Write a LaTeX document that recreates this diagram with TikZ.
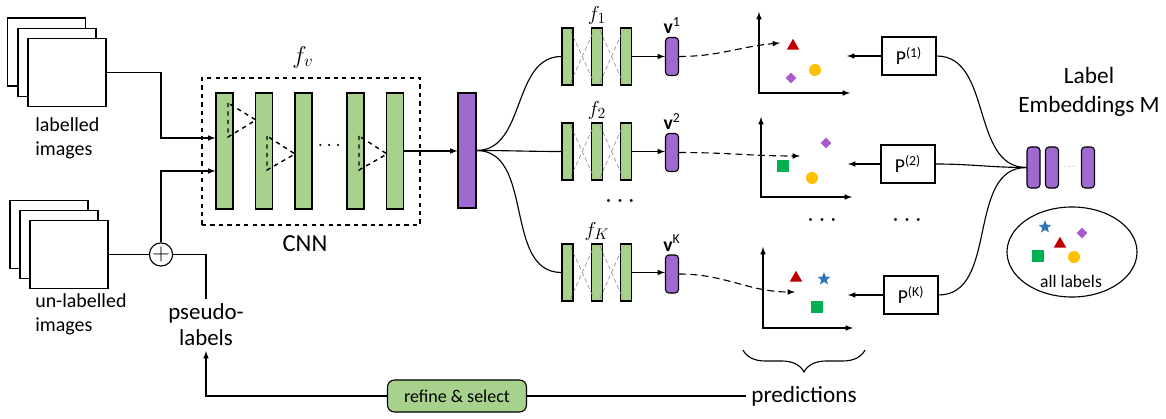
\documentclass[tikz,border=0pt]{standalone}
\usepackage{amsmath}
\usepackage{amssymb}
\usepackage{fontspec}
\setmainfont{Carlito}
\usetikzlibrary{fit,positioning,shapes.geometric,decorations.pathreplacing}

\definecolor{cnngreen}{RGB}{169,209,142}
\definecolor{embpurple}{RGB}{158,106,208}
\definecolor{mkred}{RGB}{192,0,0}
\definecolor{mkorange}{RGB}{255,192,0}
\definecolor{mkpurple}{RGB}{168,92,206}
\definecolor{mkgreen}{RGB}{0,176,80}
\definecolor{mkblue}{RGB}{46,117,182}

\newcommand{\spreaddots}{\fontsize{14}{14}\selectfont ·\hspace{4.5pt}·\hspace{4.5pt}·}

\begin{document}
\begin{tikzpicture}[x=0.025cm,y=-0.025cm]
		\tikzstyle{img}=[rectangle, draw=black, thick, fill=white, minimum width=1.95cm, minimum height=1.7cm, inner sep=0pt]
		\tikzstyle{conv}=[rectangle, draw=black, thick, fill=cnngreen, minimum width=0.425cm, minimum height=2.9cm, inner sep=0pt]
		\tikzstyle{fc}=[rectangle, draw=black, thick, fill=cnngreen, minimum width=0.275cm, minimum height=1.425cm, inner sep=0pt]
		\tikzstyle{vec}=[rectangle, rounded corners=2.5pt, draw=black, thick, fill=embpurple, minimum width=0.325cm, minimum height=0.95cm, inner sep=0pt]
		\tikzstyle{emb}=[vec, minimum height=1.025cm]
		\tikzstyle{pbox}=[rectangle, draw=black, thick, minimum width=1.35cm, minimum height=0.95cm, font=\fontsize{14}{16}\selectfont]
		\tikzstyle{connect}=[-latex, thick]
		\tikzstyle{plain}=[thick]
		\tikzstyle{flow}=[-latex, thick, dash pattern=on 5pt off 3pt]
		\tikzstyle{cross}=[densely dashed, gray, thin]
		\tikzstyle{txt}=[font=\fontsize{14.2}{17}\selectfont, align=left, inner sep=0pt]
		\tikzstyle{trimark}=[regular polygon, regular polygon sides=3, fill=mkred, minimum size=0.36cm, inner sep=0pt]
		\tikzstyle{circmark}=[circle, fill=mkorange, minimum size=0.3cm, inner sep=0pt]
		\tikzstyle{sqmark}=[rectangle, fill=mkgreen, minimum size=0.28cm, inner sep=0pt]
		\tikzstyle{diamark}=[diamond, fill=mkpurple, minimum size=0.27cm, inner sep=0pt]
		\tikzstyle{starmark}=[star, star points=5, star point ratio=2.4, fill=mkblue, minimum size=0.34cm, inner sep=0pt]
		\useasboundingbox (0,0) rectangle (1166,419);
		
		% inputs
		\node[img] (lab3) at (46.5,52) { };
		\node[img] (lab2) at (57,62.5) { };
		\node[img] (lab1) at (67,72.5) { };
		\node[txt, anchor=north west] (labtxt) at (35,117) {labelled\\images};
		
		\node[img] (unl3) at (49,234.5) { };
		\node[img] (unl2) at (59,244.5) { };
		\node[img] (unl1) at (69,254.5) { };
		\node[txt, anchor=north west] (unltxt) at (35,293) {un-labelled\\images};
		
		\node[circle, draw, thick, fill=white, minimum size=0.58cm, inner sep=0pt] (plus) at (161,254.5) {\fontsize{17}{17}\selectfont$+$};
		\node[font=\fontsize{16.3}{18.5}\selectfont, align=center, anchor=north] (pseudo) at (206,299) {pseudo-\\labels};
		
		% CNN
		\node[rectangle, draw, thick, dashed, minimum width=5.45cm, minimum height=3.675cm] (cnnbox) at (311,151.5) { };
		\node[font=\fontsize{17}{20}\selectfont] (fv) at (303,57) {$f_v$};
		\node[font=\fontsize{17.4}{20}\selectfont] (cnntxt) at (305,244) {CNN};
		\node[conv] (c1) at (224.5,151) { };
		\node[conv] (c2) at (264,151) { };
		\node[conv] (c3) at (303.5,151) { };
		\node[font=\fontsize{15}{15}\selectfont] (cdots) at (331,146) {$\cdots$};
		\node[conv] (c4) at (355.5,151) { };
		\node[conv] (c5) at (395,151) { };
		\draw[dashed, line width=1pt] (228,103) -- (228,137) -- (256,120) -- cycle;
		\draw[dashed, line width=1pt] (267,136) -- (267,170) -- (295,154) -- cycle;
		\draw[dashed, line width=1pt] (359,136) -- (359,170) -- (387,154) -- cycle;
		
		\draw[connect] (lab1.east) -- (161,72.5) |- (c1.west |- 0,138);
		\draw[plain] (unl1.east) -- (plus.west);
		\draw[connect] (plus.north) |- (c1.west |- 0,171);
		\draw[plain] (plus.east) -| (pseudo.north);
		
		\node[rectangle, draw=black, thick, fill=embpurple, minimum width=0.45cm, minimum height=2.875cm, inner sep=0pt] (feat) at (467,150.5) { };
		\path (c5.east) edge [connect] (feat.west |- c5.east);
		
		% heads
		\foreach \r/\y/\vy in {1/56.5/56.5, 2/151.5/152.5, K/272.5/274}{
			\node[fc] (f\r-a) at (567.5,\y) { };
			\node[fc] (f\r-b) at (597,\y) { };
			\node[fc] (f\r-c) at (626,\y) { };
			\node[font=\fontsize{15}{17}\selectfont, inner sep=2pt] (lf\r) [above=0pt of f\r-b] {$f_{\r}$};
			\draw[cross] ([shift={(-3,3)}]f\r-a.north east) -- ([shift={(3,-3)}]f\r-b.south west);
			\draw[cross] ([shift={(-3,-3)}]f\r-a.south east) -- ([shift={(3,3)}]f\r-b.north west);
			\draw[cross] ([shift={(-3,3)}]f\r-b.north east) -- ([shift={(3,-3)}]f\r-c.south west);
			\draw[cross] ([shift={(-3,-3)}]f\r-b.south east) -- ([shift={(3,3)}]f\r-c.north west);
			\node[vec] (v\r) at (672,\vy) { };
			\node[font=\fontsize{14}{16}\selectfont, inner sep=2pt] (lv\r) [above=0pt of v\r] {\textbf{v}\textsuperscript{\r}};
			\draw[connect] (f\r-c.east) -- (f\r-c.east -| v\r.west);
			\draw[plain] (feat.east) to[out=0,in=180] (f\r-a.west);
		}
		\node (hdots) at (620,203) {\spreaddots};
		
		% prediction plots
		\draw[latex-latex, thick] (759,12) -- (759,93) -- (850,93);
		\draw[latex-latex, thick] (761,117) -- (761,197) -- (852,197);
		\draw[latex-latex, thick] (763,247) -- (763,328) -- (853,328);
		\coordinate (t1) at (780,43);
		\coordinate (t2) at (800,156);
		\coordinate (tK) at (795,292);
		\draw[flow] (v1.east) to[out=0,in=185] (t1);
		\draw[flow] (v2.east) to[out=0,in=180] (t2);
		\draw[flow] (vK.east) to[out=0,in=180] (tK);
		
		\node[trimark] (m11) at (793,46) { };
		\node[circmark] (m12) at (815,70) { };
		\node[diamark] (m13) at (791,78) { };
		\node[diamark] (m21) at (826,143) { };
		\node[sqmark] (m22) at (783,166) { };
		\node[circmark] (m23) at (812,178) { };
		\node[trimark] (mK1) at (796,278) { };
		\node[starmark] (mK2) at (824,279) { };
		\node[sqmark] (mK3) at (817,307) { };
		
		\node (pdots) at (822,222) {\spreaddots};
		\node (qdots) at (907,222) {\spreaddots};
		
		\draw[thick, decorate, decoration={brace, mirror, amplitude=0.55cm}] (743,350) -- (865,350);
		\node[font=\fontsize{16.5}{18}\selectfont] (pred) at (804,396) {predictions};
		
		% projections
		\node[pbox] (P1) at (909,56) {P\textsuperscript{(1)}};
		\node[pbox] (P2) at (908,164) {P\textsuperscript{(2)}};
		\node[pbox] (PK) at (911,295) {P\textsuperscript{(K)}};
		\coordinate (a1) at (847,56);
		\coordinate (a2) at (848,164);
		\coordinate (aK) at (848,295);
		\path (P1.west) edge [connect] (a1);
		\path (P2.west) edge [connect] (a2);
		\path (PK.west) edge [connect] (aK);
		
		% label embeddings
		\node[emb] (e1) at (1033.5,167.5) { };
		\node[emb] (e2) at (1052,167.5) { };
		\node (edots) at (1070,167) {\tiny$\cdots$};
		\node[emb] (e3) at (1088,167.5) { };
		\node[font=\fontsize{16.6}{20.5}\selectfont, align=center] (embtxt) at (1089,92) {Label\\Embeddings M};
		\draw[plain] (P1.east) to[out=0,in=180] (e1.west);
		\draw[plain] (P2.east) to[out=0,in=180] (e1.west);
		\draw[plain] (PK.east) to[out=0,in=180] (e1.west);
		
		\node[ellipse, draw, thick, minimum width=3.25cm, minimum height=2.25cm] (all) at (1072,252) { };
		\node[font=\fontsize{12.5}{14}\selectfont] (alltxt) at (1071,281) {all labels};
		\node[starmark] (l1) at (1045,227) { };
		\node[diamark] (l2) at (1082,233) { };
		\node[trimark] (l3) at (1060,244) { };
		\node[sqmark] (l4) at (1038,256) { };
		\node[circmark] (l5) at (1074,257) { };
		
		% feedback
		\node[rectangle, rounded corners=5pt, draw, thick, fill=cnngreen, minimum width=3.475cm, minimum height=0.8cm, font=\fontsize{12.8}{14}\selectfont] (refine) at (457,396) {refine \& select};
		\draw[plain] (pred.west) -- (refine.east);
		\draw[connect] (refine.west) -| (pseudo.south);
	\end{tikzpicture}
\end{document}
